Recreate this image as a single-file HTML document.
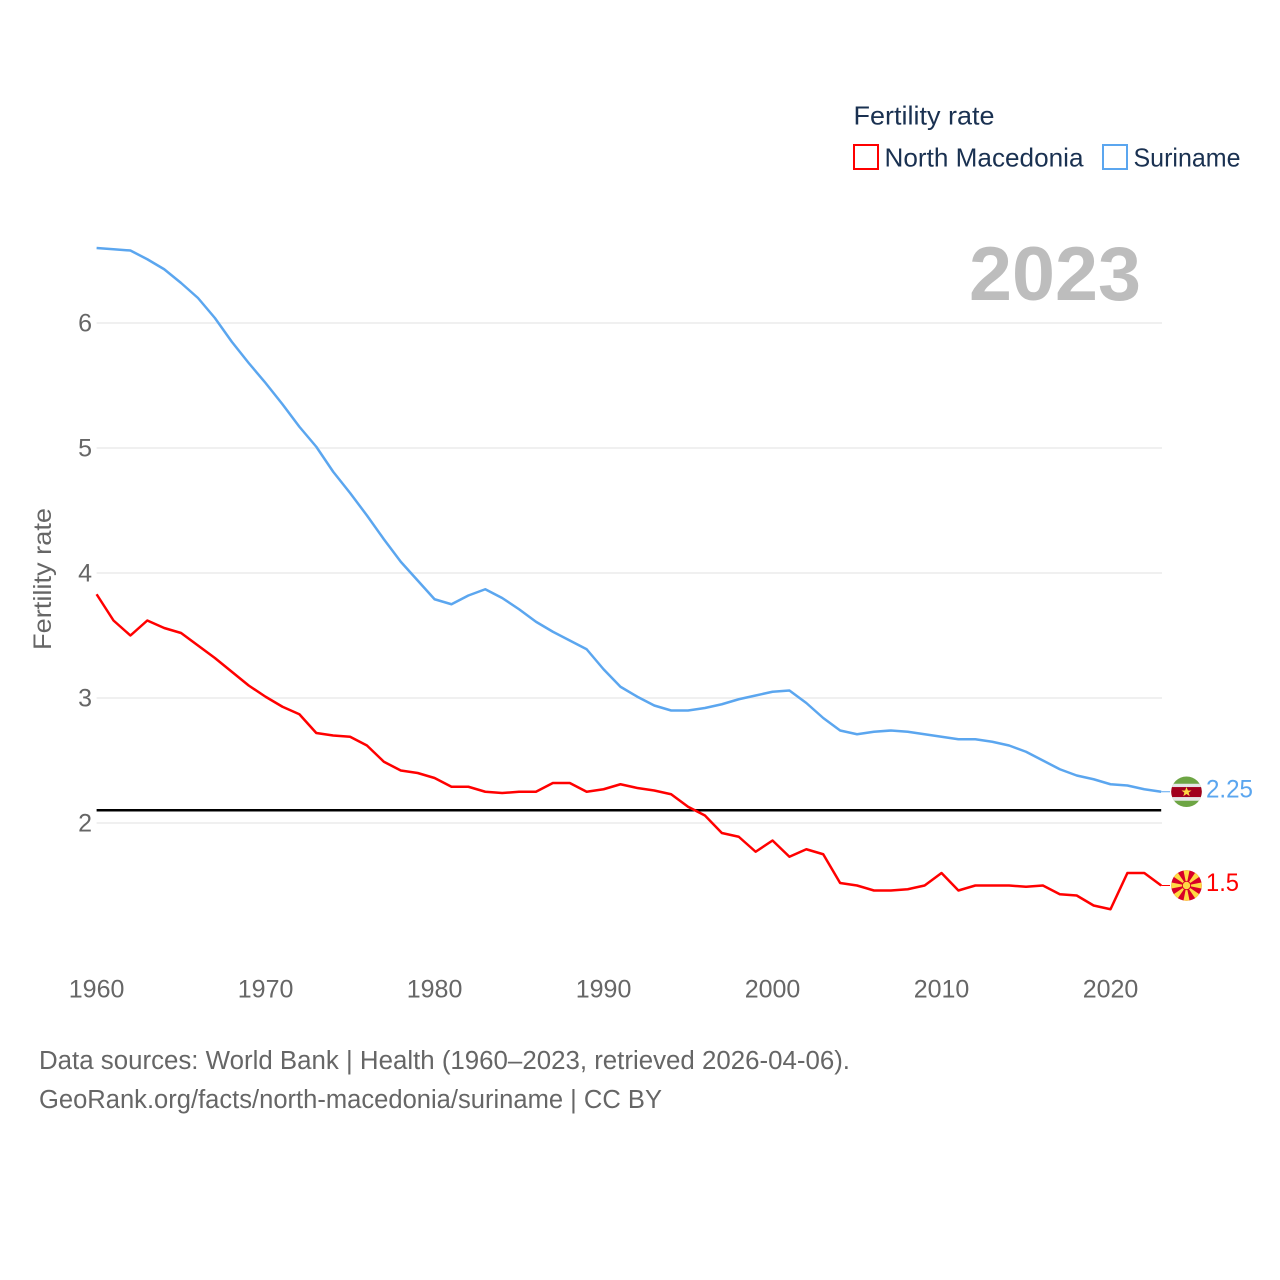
<!DOCTYPE html>
<html>
<head>
<meta charset="utf-8">
<title>Fertility rate: North Macedonia and Suriname</title>
<style>
html,body{margin:0;padding:0;background:#fff;width:1280px;height:1280px;overflow:hidden}
svg{display:block;font-family:"Liberation Sans",sans-serif}
</style>
</head>
<body>
<svg id="chart" xmlns="http://www.w3.org/2000/svg" width="1280" height="1280" viewBox="0 0 1280 1280">
  <rect width="1280" height="1280" fill="#fff"/>
  <g id="grid"></g>
  <g id="yticks"></g>
  <g id="xticks"></g>
  <text transform="translate(51,579) rotate(-90)" text-anchor="middle" font-size="25" fill="#666" textLength="142" lengthAdjust="spacingAndGlyphs">Fertility rate</text>
  <text x="969" y="300" font-size="76" font-weight="700" fill="#bdbdbd" textLength="172" lengthAdjust="spacingAndGlyphs">2023</text>
  <g id="series"></g>
  <g>
    <text x="853.5" y="124.5" font-size="26" fill="#1a3151" textLength="141" lengthAdjust="spacingAndGlyphs">Fertility rate</text>
    <rect x="854" y="145" width="24" height="24" fill="#fff" stroke="#ff0000" stroke-width="2"/>
    <text x="884.5" y="166.5" font-size="26" fill="#1a3151" textLength="199" lengthAdjust="spacingAndGlyphs">North Macedonia</text>
    <rect x="1103" y="145" width="24" height="24" fill="#fff" stroke="#5ba6ef" stroke-width="2"/>
    <text x="1133.5" y="166.5" font-size="26" fill="#1a3151" textLength="107" lengthAdjust="spacingAndGlyphs">Suriname</text>
  </g>
  <defs>
    <clipPath id="flag-clip"><circle cx="0" cy="0" r="15.3"/></clipPath>
  </defs>
  <g id="flag-sr">
    <g clip-path="url(#flag-clip)">
      <rect x="-16" y="-16" width="32" height="32" fill="#6da544"/>
      <rect x="-16" y="-8" width="32" height="17" fill="#e6e6e6"/>
      <rect x="-16" y="-4.7" width="32" height="10" fill="#a2001d"/>
      <polygon points="0,-4.8 1.4,-1.3 5,-1.3 2.1,0.9 3.2,4.4 0,2.3 -3.2,4.4 -2.1,0.9 -5,-1.3 -1.4,-1.3" fill="#ffda44"/>
    </g>
  </g>
  <g id="flag-mk">
    <g clip-path="url(#flag-clip)">
      <rect x="-16" y="-16" width="32" height="32" fill="#d80027"/>
      <g fill="#ffda44">
        <polygon points="-3.2,-16 3.2,-16 0,0"/>
        <polygon points="-3.2,16 3.2,16 0,0"/>
        <polygon points="-16,-3.2 -16,3.2 0,0"/>
        <polygon points="16,-3.2 16,3.2 0,0"/>
        <polygon points="-14,-9.5 -9.5,-14 0,0"/>
        <polygon points="14,-9.5 9.5,-14 0,0"/>
        <polygon points="-14,9.5 -9.5,14 0,0"/>
        <polygon points="14,9.5 9.5,14 0,0"/>
      </g>
      <circle r="4.6" fill="#d80027"/>
      <circle r="3.7" fill="#ffda44"/>
    </g>
  </g>
  <g>
    <text x="39" y="1069" font-size="25.5" fill="#666" textLength="811" lengthAdjust="spacingAndGlyphs">Data sources: World Bank | Health (1960–2023, retrieved 2026-04-06).</text>
    <text x="39" y="1108" font-size="25.5" fill="#666" textLength="623" lengthAdjust="spacingAndGlyphs">GeoRank.org/facts/north-macedonia/suriname | CC BY</text>
  </g>
</svg>
<script>
const firstYear = 1960;
const lastYear = 2023;
const yTickValues = [2, 3, 4, 5, 6];
const xTickValues = [1960, 1970, 1980, 1990, 2000, 2010, 2020];
const replacementRate = 2.1;
const surinameValues = [6.60,6.59,6.58,6.51,6.43,6.32,6.20,6.04,5.85,5.68,5.52,5.35,5.17,5.01,4.81,4.64,4.46,4.27,4.09,3.94,3.79,3.75,3.82,3.87,3.80,3.71,3.61,3.53,3.46,3.39,3.23,3.09,3.01,2.94,2.90,2.90,2.92,2.95,2.99,3.02,3.05,3.06,2.96,2.84,2.74,2.71,2.73,2.74,2.73,2.71,2.69,2.67,2.67,2.65,2.62,2.57,2.50,2.43,2.38,2.35,2.31,2.30,2.27,2.25];
const macedoniaValues = [3.83,3.62,3.50,3.62,3.56,3.52,3.42,3.32,3.21,3.10,3.01,2.93,2.87,2.72,2.70,2.69,2.62,2.49,2.42,2.40,2.36,2.29,2.29,2.25,2.24,2.25,2.25,2.32,2.32,2.25,2.27,2.31,2.28,2.26,2.23,2.13,2.06,1.92,1.89,1.77,1.86,1.73,1.79,1.75,1.52,1.50,1.46,1.46,1.47,1.50,1.60,1.46,1.50,1.50,1.50,1.49,1.50,1.43,1.42,1.34,1.31,1.60,1.60,1.50];
const surinameLabel = "2.25";
const macedoniaLabel = "1.5";

const NS = "http://www.w3.org/2000/svg";
function xScale(year) { return 96.6 + (year - firstYear) * (1161.2 - 96.6) / (lastYear - firstYear); }
function yScale(v) { return 823 - (v - 2) * 125; }
function mk(tag, attrs, parent, txt) {
  const el = document.createElementNS(NS, tag);
  for (const k in attrs) el.setAttribute(k, attrs[k]);
  if (txt !== undefined) el.textContent = txt;
  parent.appendChild(el);
  return el;
}
const grid = document.getElementById("grid");
const yticks = document.getElementById("yticks");
const xticks = document.getElementById("xticks");
const series = document.getElementById("series");

yTickValues.forEach(function (v) {
  const line = mk("line", {x1: 96.6, x2: 1162, y1: yScale(v), y2: yScale(v), stroke: "#ececec", "stroke-width": 1.5}, grid);
  
  
  const label = mk("text", {x: 92, y: yScale(v) + 8.5, "text-anchor": "end", "font-size": 25, fill: "#666"}, yticks, String(v));
  
  
});
xTickValues.forEach(function (yr) {
  const label = mk("text", {x: xScale(yr), y: 997.5, "text-anchor": "middle", "font-size": 25, fill: "#666"}, xticks, String(yr));
  
  
});

function linePoints(values) {
  return values.map(function (v, i) { return xScale(firstYear + i).toFixed(2) + "," + yScale(v).toFixed(2); }).join(" ");
}
const refLine = mk("line", {x1: xScale(firstYear), x2: xScale(lastYear), y1: yScale(replacementRate) - 0.3, y2: yScale(replacementRate) - 0.3, stroke: "#000", "stroke-width": 2.5}, series);



const redLine = mk("polyline", {points: linePoints(macedoniaValues), fill: "none", stroke: "#ff0000", "stroke-width": 2.5, "stroke-linejoin": "round"}, series);



const blueLine = mk("polyline", {points: linePoints(surinameValues), fill: "none", stroke: "#5ba6ef", "stroke-width": 2.5, "stroke-linejoin": "round"}, series);



const srY = yScale(surinameValues[surinameValues.length - 1]);
const mkY = yScale(macedoniaValues[macedoniaValues.length - 1]);

const srLead = mk("line", {x1: xScale(lastYear), x2: 1170, y1: srY, y2: srY, stroke: "#5ba6ef", "stroke-width": 1}, series);



const mkLead = mk("line", {x1: xScale(lastYear), x2: 1170, y1: mkY, y2: mkY, stroke: "#ff0000", "stroke-width": 1}, series);



document.getElementById("flag-sr").setAttribute("transform", "translate(1186.5," + srY + ")");
document.getElementById("flag-mk").setAttribute("transform", "translate(1186.5," + mkY + ")");

const srValue = mk("text", {x: 1206, y: srY + 5.5, "font-size": 25, fill: "#5ba6ef", textLength: 47, lengthAdjust: "spacingAndGlyphs"}, series, surinameLabel);



const mkValue = mk("text", {x: 1206, y: mkY + 5.5, "font-size": 25, fill: "#ff0000", textLength: 33, lengthAdjust: "spacingAndGlyphs"}, series, macedoniaLabel);


</script>
</body>
</html>
